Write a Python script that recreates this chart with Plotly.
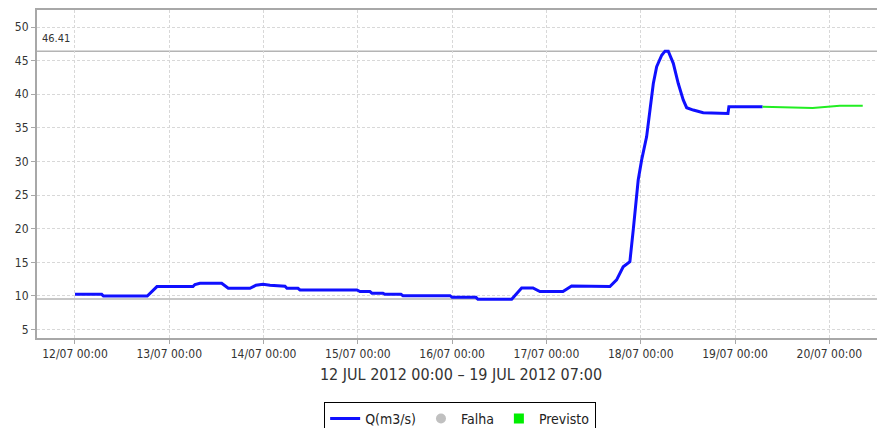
import plotly.graph_objects as go

# observed discharge Q(m3/s)
obs_time = [
    "2012-07-12 00:00", "2012-07-12 06:48", "2012-07-12 07:15", "2012-07-12 18:24",
    "2012-07-12 20:52", "2012-07-13 06:02", "2012-07-13 06:32", "2012-07-13 07:49",
    "2012-07-13 13:20", "2012-07-13 15:01", "2012-07-13 20:32", "2012-07-13 22:04",
    "2012-07-13 23:51", "2012-07-14 01:38", "2012-07-14 05:27", "2012-07-14 05:57",
    "2012-07-14 08:45", "2012-07-14 09:16", "2012-07-14 23:46", "2012-07-15 00:32",
    "2012-07-15 03:04", "2012-07-15 03:35", "2012-07-15 06:23", "2012-07-15 06:53",
    "2012-07-15 10:58", "2012-07-15 11:29", "2012-07-15 23:27", "2012-07-16 00:00",
    "2012-07-16 06:03", "2012-07-16 06:34", "2012-07-16 15:09", "2012-07-16 17:41",
    "2012-07-16 20:34", "2012-07-16 22:20", "2012-07-17 04:12", "2012-07-17 06:24",
    "2012-07-17 16:09", "2012-07-17 17:51", "2012-07-17 19:32", "2012-07-17 21:14",
    "2012-07-17 22:05", "2012-07-17 23:21", "2012-07-18 00:13", "2012-07-18 01:30",
    "2012-07-18 02:21", "2012-07-18 03:12", "2012-07-18 04:03", "2012-07-18 05:20",
    "2012-07-18 06:10", "2012-07-18 07:00", "2012-07-18 08:17", "2012-07-18 09:33",
    "2012-07-18 10:49", "2012-07-18 11:41", "2012-07-18 13:22", "2012-07-18 15:54",
    "2012-07-18 22:12", "2012-07-18 22:26", "2012-07-19 07:00",
]
obs_q = [
    10.25, 10.25, 10.0, 10.0,
    11.4, 11.4, 11.7, 11.9,
    11.9, 11.15, 11.15, 11.6,
    11.75, 11.6, 11.45, 11.15,
    11.15, 10.9, 10.9, 10.65,
    10.65, 10.4, 10.4, 10.25,
    10.25, 10.05, 10.05, 9.8,
    9.8, 9.5, 9.5, 11.2,
    11.2, 10.65, 10.65, 11.5,
    11.4, 12.4, 14.35, 15.1,
    19.8, 27.25, 30.2, 33.7,
    37.65, 41.6, 44.1, 45.8,
    46.41, 46.41, 44.6, 41.6,
    39.15, 38.0, 37.65, 37.25,
    37.15, 38.15, 38.15,
]

# forecast (Previsto)
fc_time = ["2012-07-19 07:00", "2012-07-19 19:45", "2012-07-20 02:40", "2012-07-20 08:30"]
fc_q = [38.15, 37.95, 38.3, 38.3]

q_max = 46.41
q_min = 9.55

GRID = "#d8d8d8"
AXIS = "#a8a8a8"
FONT = dict(family="DejaVu Sans Condensed, Liberation Sans Narrow, DejaVu Sans, sans-serif",
            size=12, color="#333333")

fig = go.Figure()
fig.add_trace(go.Scatter(x=obs_time, y=obs_q, mode="lines", name="Q(m3/s)",
                         line=dict(color="#1010ff", width=3)))
fig.add_trace(go.Scatter(x=[None], y=[None], mode="markers", name="Falha",
                         marker=dict(color="#c0c0c0", size=10, symbol="circle")))
fig.add_trace(go.Scatter(x=fc_time, y=fc_q, mode="lines", showlegend=False,
                         line=dict(color="#22ee22", width=2)))
fig.add_trace(go.Scatter(x=[None], y=[None], mode="markers", name="Previsto",
                         marker=dict(color="#00ee00", size=10, symbol="square")))

# max / min markers, drawn under the series
for v in (q_max, q_min):
    fig.add_shape(type="line", xref="paper", yref="y", x0=0, x1=1, y0=v, y1=v,
                  layer="below", line=dict(color="#b4b4b4", width=1.5))
fig.add_annotation(text=f"{q_max:.2f}", xref="paper", yref="y", x=0.003, y=48.35,
                   xanchor="left", showarrow=False, font=dict(FONT, size=11))
fig.add_annotation(text=f"{q_min:.2f}", xref="paper", yref="y", x=0.989, y=7.6,
                   xanchor="left", showarrow=False, font=dict(FONT, size=11))

# page body has an 8px margin; figure is a bit taller than the window so the
# legend fits inside it (no margin push) and gets cut at the window edge
fig.update_layout(
    width=877, height=436,
    margin=dict(l=29, r=0, t=2, b=106),
    paper_bgcolor="white", plot_bgcolor="white",
    font=FONT,
    showlegend=True,
    legend=dict(orientation="h", x=0.499, xanchor="center", y=-0.195, yanchor="top",
                bordercolor="black", borderwidth=1, font=dict(FONT, size=14, color="#222222"),
                itemwidth=30, tracegroupgap=0),
    xaxis=dict(
        type="date",
        range=["2012-07-11 14:20", "2012-07-20 14:10"],
        tick0="2012-07-12", dtick=86400000, tickformat="%d/%m %H:%M",
        showgrid=True, gridcolor=GRID, griddash="3px,2px", gridwidth=1,
        showline=True, linecolor=AXIS, linewidth=2, mirror=True,
        ticks="outside", ticklen=4, tickcolor=AXIS,
        title=dict(text="12 JUL 2012 00:00 – 19 JUL 2012 07:00",
                   font=dict(FONT, size=16), standoff=8),
        zeroline=False, automargin=False,
    ),
    yaxis=dict(
        range=[3.75, 52.53], tick0=0, dtick=5,
        showgrid=True, gridcolor=GRID, griddash="3px,2px", gridwidth=1,
        showline=True, linecolor=AXIS, linewidth=2,
        ticks="outside", ticklen=4, tickcolor=AXIS,
        zeroline=False, automargin=False,
    ),
)

fig.write_html("out.html")
